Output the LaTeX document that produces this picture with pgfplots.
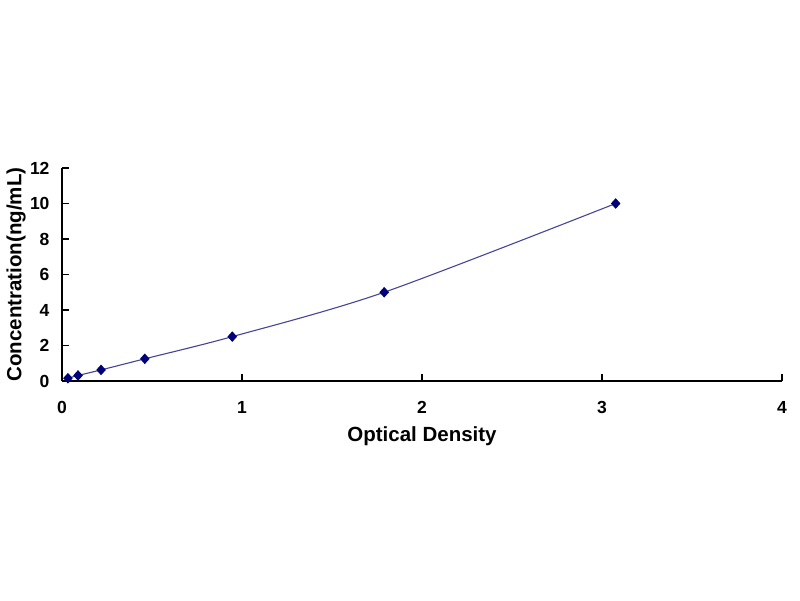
\documentclass[border=0pt]{standalone}
\usepackage{pgfplots}
\pgfplotsset{compat=1.18}
\usepackage{fontspec}
\setmainfont{Liberation Sans}
\definecolor{curve}{RGB}{70,70,150}
\definecolor{mk}{RGB}{0,0,120}
\begin{document}
\begin{tikzpicture}
\useasboundingbox[fill=white] (0pt,0pt) rectangle (800pt,600pt);
\begin{axis}[
  at={(62pt,219pt)}, anchor=south west,
  width=720pt, height=213pt, scale only axis,
  xmin=0, xmax=4, ymin=0, ymax=12,
  xtick={0,1,2,3,4}, ytick={0,2,4,6,8,10,12},
  axis x line*=bottom, axis y line*=left,
  axis line style={line width=2pt, black, -},
  tick style={line width=1.6pt, black},
  tick align=inside, major tick length=7pt,
  /pgf/number format/assume math mode=true,
  ticklabel style={font=\fontsize{17.5}{19}\selectfont\bfseries},
  xticklabel style={yshift=-17pt},
  yticklabel style={xshift=-9pt},
  xlabel={Optical Density}, ylabel={Concentration(ng/mL)},
  label style={font=\fontsize{20.5}{23}\selectfont\bfseries},
  xlabel style={at={(axis description cs:0.5,0)}, anchor=center, yshift=-55pt},
  ylabel style={at={(axis description cs:0,0.5)}, anchor=center, yshift=46pt},
  clip=false,
]
\addplot[color=curve, line width=1.1pt, smooth, tension=0.5,
  mark=diamond*, mark size=4.5pt, mark options={fill=mk, draw=mk, xscale=1.2}]
  coordinates {
  (0.033,0.156) (0.089,0.312) (0.217,0.625) (0.46,1.25) (0.946,2.5) (1.79,5) (3.076,10)
  };
\end{axis}
\end{tikzpicture}
\end{document}
